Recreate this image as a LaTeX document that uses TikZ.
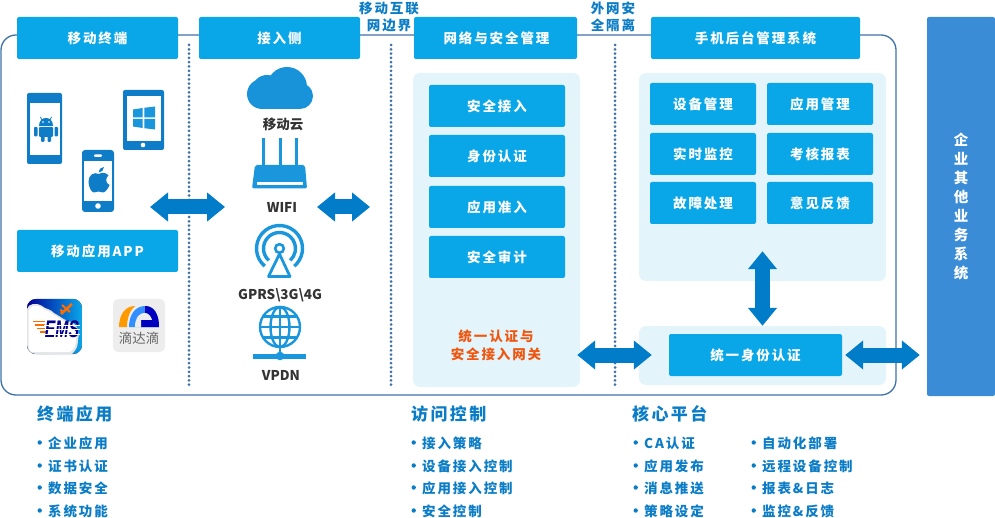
\documentclass[tikz,border=0pt]{standalone}
\usepackage{fontspec}
\setmainfont{Noto Sans CJK SC}
\newfontfamily\cjkwide[LetterSpace=14]{Noto Sans CJK SC}
\newfontfamily\cjknarrow{Noto Sans CJK SC}
\newfontfamily\emsfont{Liberation Sans}
\usetikzlibrary{arrows.meta}
\definecolor{boxblue}{HTML}{0AA7E8}
\definecolor{panelblue}{HTML}{E4F4FB}
\definecolor{framedark}{HTML}{3F72A8}
\definecolor{duplexblue}{HTML}{007CC8}
\definecolor{textblue}{HTML}{0B7CC6}
\definecolor{iconblue}{HTML}{1A96DC}
\definecolor{phoneblue}{HTML}{0E7CC6}
\definecolor{barblue}{HTML}{3A8CD7}
\definecolor{gateorange}{HTML}{F1560F}
\tikzset{
  headbox/.style={fill=boxblue,rounded corners=2pt,inner sep=0pt,minimum height=42pt,text=white,font=\fontsize{13.5}{16}\cjkwide\bfseries},
  panel/.style={fill=panelblue,rounded corners=7pt,inner sep=0pt},
  sepline/.style={framedark,line width=3pt,line cap=round,dash pattern=on 0pt off 4.3pt},
  duplex/.style={line width=15pt,duplexblue,{Triangle[length=18pt,width=28pt]}-{Triangle[length=18pt,width=28pt]}},
  devlabel/.style={text=black!80,inner sep=0pt,font=\fontsize{13.5}{16}\cjknarrow\bfseries},
  edgelabel/.style={text=textblue,inner sep=0pt,align=center,font=\fontsize{13.5}{17}\cjkwide\bfseries},
  listhead/.style={anchor=west,text=textblue,inner sep=0pt,font=\fontsize{17}{20}\cjkwide\bfseries},
  listitem/.style={anchor=west,text=textblue,inner sep=0pt,font=\fontsize{13.5}{16}\cjkwide\bfseries}
}
\begin{document}
\begin{tikzpicture}[x=1pt,y=-1pt]
\useasboundingbox (0,0) rectangle (995,518);
% frame and separators
\draw[framedark,line width=1.3pt,rounded corners=15pt] (1,35) rectangle (896,395);
\foreach \x in {189,391,615}
    \draw[sepline] (\x,45) -- (\x,385);
% panels
\node[panel,minimum width=167pt,minimum height=314pt] (gatepanel) at (496.5,230) {};
\node[panel,minimum width=247pt,minimum height=208pt] (mgmtpanel) at (762.5,177) {};
\node[panel,minimum width=247pt,minimum height=59pt] (authpanel) at (762.5,355.5) {};
% header boxes
\node[headbox,minimum width=161pt] (terminal) at (97.5,38) {移动终端};
\node[headbox,minimum width=161pt] (access) at (279.5,38) {接入侧};
\node[headbox,minimum width=163pt] (netsec) at (495.5,38) {\hspace{2pt}网络与安全管理};
\node[headbox,minimum width=209pt] (backend) at (755.5,38) {手机后台管理系统};
\node[headbox,minimum width=161pt] (appbox) at (97.5,251) {移动应用APP};
\node[edgelabel] (edgemobile) at (389,16.5) {移动互联\\网边界};
\node[edgelabel] (edgeouter) at (613,16.5) {外网安\\全隔离};
% gateway boxes
\foreach \name/\yy/\txt in {gatea/106/安全接入,gateb/156/身份认证,gatec/207/应用准入,gated/257/安全审计}
    \node[headbox,minimum width=136pt] (\name) at (497,\yy) {\txt};
\node[text=gateorange,inner sep=0pt,align=center,font=\fontsize{13.5}{18}\cjkwide\bfseries] (gatelabel) at (496,345) {统一认证与\\安全接入网关};
% management boxes
\foreach \name/\xx/\yy/\txt in {mgmta/703/104/设备管理,mgmtb/820/104/应用管理,mgmtc/703/154/实时监控,mgmtd/820/154/考核报表,mgmte/703/203/故障处理,mgmtf/820/203/意见反馈}
    \node[headbox,minimum width=106pt] (\name) at (\xx,\yy) {\txt};
\node[headbox,minimum width=173pt] (authbox) at (755.5,355) {统一身份认证};
\node[fill=barblue,rounded corners=2pt,inner sep=0pt,minimum width=68pt,minimum height=379pt,text=white,align=center,font=\fontsize{14.5}{19}\cjknarrow\bfseries] (sysbar) at (961,206.5) {企\\业\\其\\他\\业\\务\\系\\统};
% android phone
\fill[phoneblue,rounded corners=2pt] (27,93) rectangle (62,164);
\fill[white] (30,103) rectangle (60,155);
\fill[phoneblue] (39,126) .. controls (39,120) and (43,118) .. (46,118) .. controls (49,118) and (53,120) .. (53,126) -- cycle;
\draw[phoneblue,line width=0.8pt] (42,120) -- (40.5,117) (50,120) -- (51.5,117);
\fill[white] (43,122) circle (0.9) (49,122) circle (0.9);
\fill[phoneblue,rounded corners=1pt] (39,127) rectangle (53,137);
\fill[phoneblue,rounded corners=1pt] (34,127) rectangle (37.5,136.5) (54.5,127) rectangle (58,136.5);
\fill[phoneblue,rounded corners=1pt] (41,134) rectangle (44.5,142) (47.5,134) rectangle (51,142);
% tablet
\fill[phoneblue,rounded corners=2pt] (123,90) rectangle (164,150);
\fill[white] (127,96.5) rectangle (161,141);
\fill[white] (143,145) circle (2.3);
\fill[iconblue] (133,109.5) -- (142.7,108) -- (142.7,117.5) -- (133,117.5) -- cycle;
\fill[iconblue] (144.3,107.8) -- (155,106.5) -- (155,117.5) -- (144.3,117.5) -- cycle;
\fill[iconblue] (133,119) -- (142.7,119) -- (142.7,128) -- (133,126.5) -- cycle;
\fill[iconblue] (144.3,119) -- (155,119) -- (155,129.5) -- (144.3,128.2) -- cycle;
% iphone
\fill[phoneblue,rounded corners=3pt] (82,150) rectangle (114,212);
\fill[white] (84,161) rectangle (112,201);
\fill[white,rounded corners=1pt] (94,154.5) rectangle (102,156.8);
\fill[white] (98,206) circle (2.8);
\fill[phoneblue] (99,174) .. controls (102,172) and (106,172.5) .. (108.5,175.5) .. controls (105.5,177.5) and (105,183) .. (109.5,185) .. controls (108,189) and (105,192.5) .. (103,192.5) .. controls (101,192.5) and (100.5,191.5) .. (98.5,191.5) .. controls (96.5,191.5) and (96,192.5) .. (94,192.5) .. controls (91,192.5) and (88.5,186) .. (88.5,181.5) .. controls (88.5,175) and (94,171.5) .. (99,174) -- cycle;
\fill[phoneblue] (98.5,172.5) .. controls (98.5,169.5) and (101,167) .. (104,167) .. controls (104,170) and (101.5,172.5) .. (98.5,172.5) -- cycle;
% ems app
\begin{scope}
\clip[rounded corners=9pt] (27,299) rectangle (82,354);
\fill[left color=blue!60!black,right color=boxblue] (27,299) rectangle (82,354);
\fill[black!10] (27,309) .. controls (28,304) and (36,302) .. (42,306) .. controls (45,309) and (51,309) .. (54,313) .. controls (60,316) and (66,322) .. (72,322) .. controls (78,326) and (80,333) .. (78,340) .. controls (78,347) and (76,350) .. (72,354) -- (27,354) -- cycle;
\fill[white] (28.5,311) .. controls (30,305) and (36,304) .. (42,308) .. controls (45,311) and (51,311) .. (54,315) .. controls (60,318) and (66,324) .. (71,324) .. controls (76,328) and (78,333) .. (76,340) .. controls (76,346) and (74,349) .. (70,352) -- (32,352) .. controls (29,350) and (28.5,348) .. (28.5,345) -- cycle;
\end{scope}
\draw[orange!85!red,line width=2.6pt] (61,314) -- (72,304);
\draw[orange!85!red,line width=2pt] (62,305) -- (70,312) (60.5,309.5) -- (63,313);
\foreach \a/\b/\yy in {33/45/321.5,35/45/325,37/45/328.5,40/46/332}
    \draw[orange!85!red,line width=1.8pt] (\a,\yy) -- (\b,\yy);
\node[inner sep=0pt,text=blue!55!black,font=\fontsize{24}{24}\emsfont\bfseries\itshape] (emstext) at (62,329.5) {\scalebox{0.66}[1]{EMS}};
\foreach \yy in {325,329.5,334}
    \draw[white,line width=0.5pt] (44,\yy) -- (80,\yy);
% dida app
\fill[black!7,rounded corners=5pt] (113,299) rectangle (165,352);
\fill[orange!80!yellow] (119,327) .. controls (119,315) and (125,306) .. (135,306) .. controls (130,310) and (127,318) .. (127,327) -- cycle;
\fill[blue!55!cyan!80!white] (129,327) .. controls (129,314) and (136,306) .. (145,306) .. controls (154,306) and (159,314) .. (159,327) -- cycle;
\fill[blue!75!black] (145,306) .. controls (154,306) and (159,314) .. (159,327) -- (141,327) -- (141,320) -- (152,320) .. controls (151,316) and (148,313) .. (145,313) -- cycle;
\fill[black!7] (135,327) .. controls (135,319) and (138,313) .. (145,313) .. controls (148,313) and (151,316) .. (152,320) -- (141,320) -- (141,327) -- cycle;
\node[inner sep=0pt,text=black!60,font=\fontsize{13.5}{16}\cjknarrow] (didatext) at (139,338.5) {滴达滴};
% cloud
\fill[iconblue!85!phoneblue] (262,94) circle (15);
\fill[iconblue!85!phoneblue] (267,90) circle (15);
\fill[iconblue!85!phoneblue] (287,87) circle (20);
\fill[iconblue!85!phoneblue] (300,96) circle (13);
\fill[iconblue!85!phoneblue] (262,90) rectangle (300,109);
\node[devlabel] (cloudlabel) at (283,124.5) {移动云};
% router
\foreach \x in {263,280,296}
    \fill[iconblue] (\x-1.5,138) rectangle (\x+1.5,167);
\fill[iconblue,rounded corners=2pt] (255,165) -- (305,165) -- (307,188.5) -- (252,188.5) -- cycle;
\fill[white] (257,182.5) rectangle (303,185.5);
\node[devlabel] (wifilabel) at (282,207) {WIFI};
% antenna
\draw[iconblue,line width=3.4pt] (279.5,248.5) ++(130:23) arc[start angle=130,end angle=410,radius=23];
\draw[iconblue,line width=3.4pt] (279.5,248.5) ++(132:16) arc[start angle=132,end angle=408,radius=16];
\draw[iconblue,line width=2.6pt] (279.5,248.5) circle (4.3);
\draw[iconblue,line width=2.8pt,line join=round] (279.5,254) -- (290,276.5) -- (268.5,276.5) -- cycle;
\node[devlabel] (gprslabel) at (280,295) {GPRS\textbackslash 3G\textbackslash 4G};
% globe
\draw[iconblue,line width=2.4pt] (280,327) circle (20);
\draw[iconblue,line width=2.4pt] (280,327) ellipse (9.5 and 20);
\draw[iconblue,line width=2.4pt] (280,307) -- (280,347) (260,327) -- (300,327) (263,316.5) -- (297,316.5) (263,337.5) -- (297,337.5);
\draw[iconblue,line width=2.2pt] (280,347) -- (280,356);
\fill[iconblue] (253,353.5) rectangle (306,358.5);
\fill[iconblue] (280,356) circle (4.3);
\node[devlabel] (vpdnlabel) at (281,375) {VPDN};
% double arrows
\coordinate (deviceside) at (150,207);
\coordinate (accessside) at (225,207);
\coordinate (wifiside) at (317,207);
\coordinate (gateside) at (370,207);
\draw[duplex] (deviceside) -- (accessside);
\draw[duplex] (wifiside) -- (gateside);
\draw[duplex,shorten <=-3pt,shorten >=17pt] (gatepanel.east |- authbox.west) -- (authbox.west);
\draw[duplex,shorten <=3pt,shorten >=7pt] (authbox.east) -- (authbox.east -| sysbar.west);
\draw[duplex,shorten <=-30pt] (mgmtpanel.south) -- (authpanel.north);
% lists
\node[listhead] (termhead) at (37,414) {终端应用};
\node[listhead] (ctrlhead) at (411,414) {访问控制};
\node[listhead] (corehead) at (632,414) {核心平台};
\foreach \name/\xx/\yy/\txt in {terma/48/443/企业应用,termb/48/466/证书认证,termc/48/488/数据安全,termd/48/511/系统功能,
    ctrla/422/443/接入策略,ctrlb/422/466/设备接入控制,ctrlc/422/488/应用接入控制,ctrld/422/511/安全控制,
    corea/644/443/CA认证,coreb/644/466/应用发布,corec/644/488/消息推送,cored/644/511/策略设定,
    coree/762/443/自动化部署,coref/762/466/远程设备控制,coreg/762/488/报表\&日志,coreh/762/511/监控\&反馈}
{
    \fill[textblue] (\xx-8.3,\yy-0.5) circle (2.2);
    \node[listitem] (\name) at (\xx,\yy) {\txt};
}
\end{tikzpicture}
\end{document}
